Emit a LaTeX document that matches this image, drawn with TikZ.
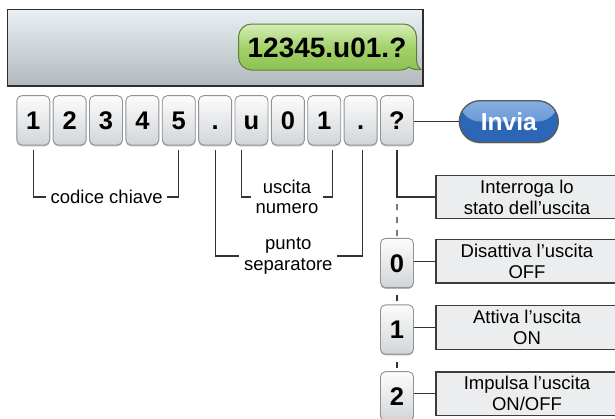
\documentclass[tikz,border=0pt]{standalone}
\usepackage{fontspec}
\setmainfont{Liberation Sans}
\usetikzlibrary{calc}
\definecolor{scrtop}{HTML}{E8F0F4}
\definecolor{scrbot}{HTML}{B2BABE}
\definecolor{scrborder}{HTML}{2E2E2E}
\definecolor{bubtop}{HTML}{D6EDB8}
\definecolor{bubmid}{HTML}{A4D26A}
\definecolor{bubbot}{HTML}{8CC153}
\definecolor{bubborder}{HTML}{5E7F3A}
\definecolor{keytop}{HTML}{FCFCFC}
\definecolor{keybot}{HTML}{D2D5D8}
\definecolor{keyborder}{HTML}{8F9396}
\definecolor{invtopa}{HTML}{86AEE0}
\definecolor{invtopb}{HTML}{4F87CF}
\definecolor{invbot}{HTML}{2C66B6}
\definecolor{boxfill}{HTML}{EBEDEE}
\definecolor{boxborder}{HTML}{3C3C3C}
\definecolor{connc}{HTML}{333333}
\tikzset{
  keybox/.style={draw=keyborder, line width=0.9pt, rounded corners=5pt,
    top color=keytop, bottom color=keybot,
    preaction={fill=black!28, transform canvas={yshift=-1.3pt}},
    minimum width=33pt, minimum height=49.3pt, inner sep=0pt,
    text height=18.3pt, text depth=0pt,
    font=\fontsize{25.5}{25.5}\selectfont\bfseries},
  invia/.style={draw=black!65, line width=1.3pt, rounded corners=20.8pt,
    minimum width=99pt, minimum height=41.6pt, inner sep=0pt, fill=invbot,
    preaction={fill=black!25, transform canvas={yshift=-1.3pt}},
    text=white, font=\fontsize{24.6}{24.6}\selectfont\bfseries,
    path picture={\fill[top color=invtopa, bottom color=invtopb]
      (path picture bounding box.north west) rectangle (path picture bounding box.east);}},
  obox/.style={draw=boxborder, line width=1.3pt, fill=boxfill,
    minimum width=182pt, minimum height=43.5pt, inner sep=0pt, align=center,
    font=\fontsize{18.5}{21}\selectfont},
  lbl/.style={align=center, inner xsep=4.5pt, inner ysep=0pt,
    font=\fontsize{18.5}{20.5}\selectfont},
  conn/.style={draw=connc, line width=1.2pt},
  dashln/.style={conn, dash pattern=on 6pt off 7pt, dash phase=6pt}
}
\begin{document}
\begin{tikzpicture}[x=1pt,y=-1pt]
\useasboundingbox (0,0) rectangle (615,418);
% screen
\draw[draw=scrborder, line width=1.6pt, top color=scrtop, bottom color=scrbot]
  (7.3,9.3) rectangle (422.7,85.7);
% bubble
\draw[draw=bubborder, line width=1pt, top color=bubtop, bottom color=bubbot, middle color=bubmid]
  (251.5,24) -- (403.5,24)
  .. controls (410.7,24) and (416.5,29.8) .. (416.5,37)
  -- (416.5,58)
  .. controls (416.5,64) and (418,67.5) .. (421,69.5)
  .. controls (416,70.3) and (411.5,69) .. (409,67)
  .. controls (407,69) and (404,70) .. (400,70)
  -- (251.5,70)
  .. controls (244.3,70) and (238.5,64.2) .. (238.5,57)
  -- (238.5,37)
  .. controls (238.5,29.8) and (244.3,24) .. (251.5,24) -- cycle;
\node[font=\fontsize{28}{28}\selectfont\bfseries] (bub) at (327,47.5) {12345.u01.?};
% key row
\foreach \t [count=\i] in {1,2,3,4,5,.,u,0,1,.,?}
  \node[keybox] (k\i) at ({33.3+36.37*(\i-1)},120.3) {\t};
% invia
\node[invia] (inv) at (508.8,121.5) {Invia};
\draw[conn] (inv.west -| k11.east) -- (inv.west);
% labels
\node[lbl] (cc) at (106.7,197) {codice chiave};
\draw[conn] ($(k1.south)+(0,5)$) |- (cc.west);
\draw[conn] ($(k5.south)+(0,5)$) |- (cc.east);
\node[lbl] (un) at (287,197) {uscita\\numero};
\draw[conn] ($(k7.south)+(-10,5)$) |- (un.west);
\draw[conn] ($(k9.south)+(8,5)$) |- (un.east);
\node[lbl] (ps) at (288.3,256) {punto\\separatore};
\draw[conn] ($(k6.south)+(0,5)$) |- (ps.west);
\draw[conn] ($(k10.south)+(1.5,5)$) |- (ps.east);
% option boxes
\node[obox] (bi) at (527,197) {Interroga lo\\stato dell’uscita};
\node[obox] (b0) at (527,261.2) {Disattiva l’uscita\\OFF};
\node[obox] (b1) at (527,327.4) {Attiva l’uscita\\ON};
\node[obox] (b2) at (527,393.7) {Impulsa l’uscita\\ON/OFF};
% lower keys
\node[keybox] (q0) at (397,263) {0};
\node[keybox] (q1) at (397,329.5) {1};
\node[keybox] (q2) at (397,396.3) {2};
% connectors
\draw[conn] ($(k11.south)+(0,5)$) |- (bi.west);
\draw[dashln] (k11 |- bi.west) -- (q0.north);
\draw[dashln] (q0.south) -- (q1.north);
\draw[dashln] (q1.south) -- (q2.north);
\draw[conn] (b0.west -| q0.east) -- (b0.west);
\draw[conn] (b1.west -| q1.east) -- (b1.west);
\draw[conn] (b2.west -| q2.east) -- (b2.west);
\end{tikzpicture}
\end{document}
